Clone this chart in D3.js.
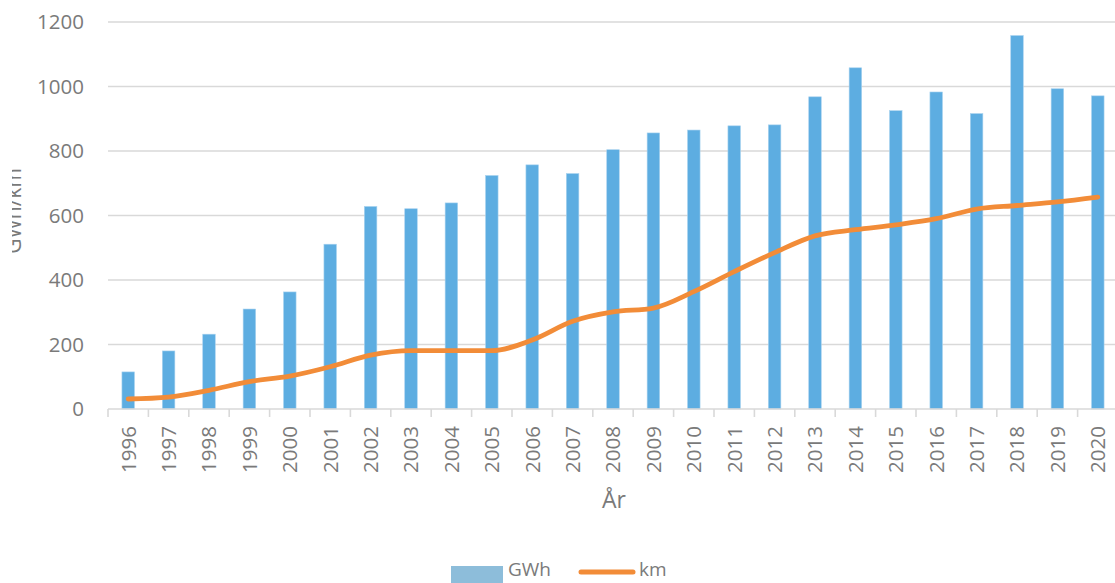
<!DOCTYPE html>
<html>
<head>
<meta charset="utf-8">
<script src="https://cdn.jsdelivr.net/npm/d3@7"></script>
<style>
  html, body { margin: 0; padding: 0; background: #fff; }
  svg { display: block; font-family: "Open Sans", Lato, sans-serif; }
</style>
</head>
<body>
<svg id="chart" width="1115" height="583"></svg>
<script>
// Yearly energy (GWh) and length (km)
const years = ["1996","1997","1998","1999","2000","2001","2002","2003","2004","2005","2006","2007","2008","2009","2010","2011","2012","2013","2014","2015","2016","2017","2018","2019","2020"];
const gwh = [115,180,232,310,363,511,628,621,639,724,757,730,804,856,865,878,881,968,1058,925,983,916,1158,993,971];
const km = [31,37,58,85,102,131,167,181,181,181,214,272,301,313,364,426,485,537,556,571,590,620,631,642,657];
const yTicks = [0,200,400,600,800,1000,1200];
const seriesNames = ["GWh","km"];

const svg = d3.select("#chart");
const W = 1115, H = 583;
const plotLeft = 108, plotRight = 1118, plotTop = 22, plotBottom = 409;

const x = d3.scaleBand().domain(years).range([plotLeft, plotRight]).padding(0);
const y = d3.scaleLinear().domain([0, 1200]).range([plotBottom, plotTop]);

const textColor = "#7a7a7a";
const gridColor = "#d9d9d9";
const barColor = "#5DADE1";
const lineColor = "#F28C38";

// horizontal gridlines
svg.append("g")
  .selectAll("line")
  .data(yTicks.filter(d => d > 0))
  .join("line")
  .attr("x1", plotLeft).attr("x2", W)
  .attr("y1", d => y(d)).attr("y2", d => y(d))
  .attr("stroke", gridColor).attr("stroke-width", 1.3);

// y tick labels
svg.append("g")
  .selectAll("text")
  .data(yTicks)
  .join("text")
  .attr("x", 84)
  .attr("y", d => y(d))
  .attr("dy", "0.36em")
  .attr("text-anchor", "end")
  .attr("fill", textColor)
  .attr("font-size", 20.5)
  .text(d => d);

// y axis title, partly cut at the left border
svg.append("clipPath").attr("id", "ytclip")
  .append("rect").attr("x", 12).attr("y", 0).attr("width", 40).attr("height", H);
svg.append("g").attr("clip-path", "url(#ytclip)")
  .append("text")
  .attr("transform", "translate(21,211) rotate(-90)")
  .attr("text-anchor", "middle")
  .attr("fill", textColor)
  .attr("font-size", 21)
  .text("GWh/km");

// bars
const barW = x.bandwidth() * 0.31;
svg.append("g")
  .selectAll("rect")
  .data(years.map((yr, i) => ({ yr, v: gwh[i] })))
  .join("rect")
  .attr("x", d => x(d.yr) + x.bandwidth() / 2 - barW / 2)
  .attr("y", d => y(d.v))
  .attr("width", barW)
  .attr("height", d => plotBottom - y(d.v))
  .attr("fill", barColor)
  .attr("stroke", "#a8d2ef")
  .attr("stroke-width", 0.6);

// x axis line and tick marks between categories
svg.append("line")
  .attr("x1", plotLeft).attr("x2", W)
  .attr("y1", plotBottom).attr("y2", plotBottom)
  .attr("stroke", gridColor).attr("stroke-width", 1.6);
svg.append("g")
  .selectAll("line")
  .data(years.map(yr => x(yr)))
  .join("line")
  .attr("x1", d => d).attr("x2", d => d)
  .attr("y1", plotBottom).attr("y2", plotBottom + 8)
  .attr("stroke", gridColor).attr("stroke-width", 1.6);

// x labels, rotated
svg.append("g")
  .selectAll("text")
  .data(years)
  .join("text")
  .attr("transform", d => `translate(${x(d) + x.bandwidth() / 2},426) rotate(-90)`)
  .attr("dy", "0.36em")
  .attr("text-anchor", "end")
  .attr("fill", textColor)
  .attr("font-size", 20.5)
  .text(d => d);

// x axis title
svg.append("text")
  .attr("x", 614).attr("y", 508)
  .attr("text-anchor", "middle")
  .attr("fill", textColor)
  .attr("font-size", 23)
  .text("År");

// km line
const line = d3.line()
  .x((d, i) => x(years[i]) + x.bandwidth() / 2)
  .y(d => y(d))
  .curve(d3.curveMonotoneX);
svg.append("path")
  .datum(km)
  .attr("d", line)
  .attr("fill", "none")
  .attr("stroke", lineColor)
  .attr("stroke-width", 4.8)
  .attr("stroke-linecap", "round")
  .attr("stroke-linejoin", "round");

// legend
const lg = svg.append("g");
lg.append("rect")
  .attr("x", 451).attr("y", 566).attr("width", 52).attr("height", 20)
  .attr("fill", "#8DBDDA");
lg.append("text")
  .attr("x", 508).attr("y", 576)
  .attr("dominant-baseline", "auto")
  .attr("fill", textColor).attr("font-size", 19)
  .text(seriesNames[0]);
lg.append("line")
  .attr("x1", 581).attr("x2", 633).attr("y1", 572).attr("y2", 572)
  .attr("stroke", lineColor).attr("stroke-width", 5)
  .attr("stroke-linecap", "round");
lg.append("text")
  .attr("x", 639).attr("y", 576)
  .attr("fill", textColor).attr("font-size", 19)
  .text(seriesNames[1]);
</script>
</body>
</html>
